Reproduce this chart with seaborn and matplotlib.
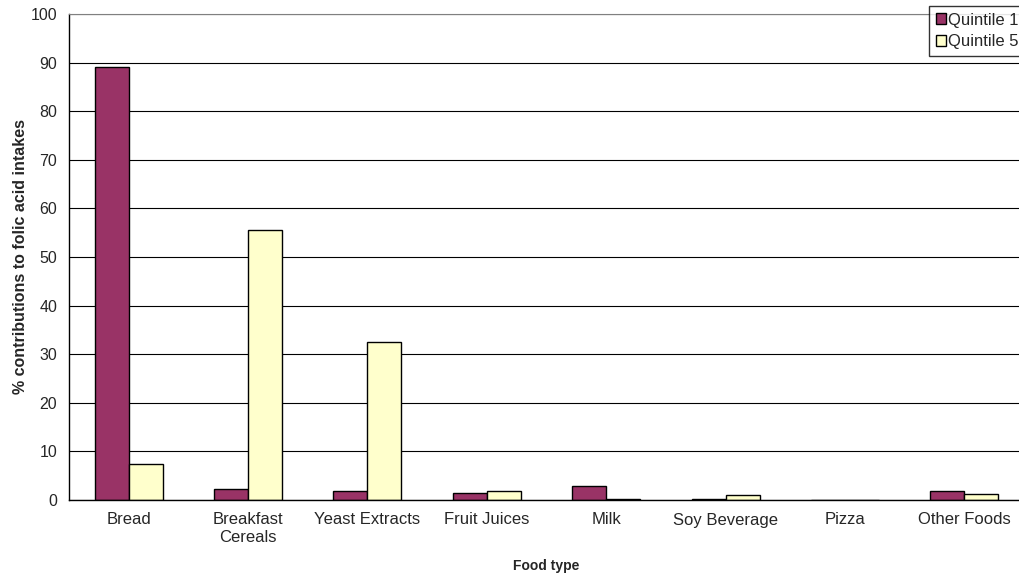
import matplotlib
matplotlib.use("Agg")
import matplotlib.pyplot as plt
import seaborn as sns
import pandas as pd
import numpy as np

foods = ["Bread", "Breakfast\nCereals", "Yeast Extracts", "Fruit Juices", "Milk",
         "Soy Beverage", "Pizza", "Other Foods"]
quintile_1 = [89.1, 2.3, 1.9, 1.5, 2.9, 0.3, 0.0, 1.9]
quintile_5 = [7.4, 55.6, 32.5, 1.8, 0.3, 1.1, 0.0, 1.2]
series = ["Quintile 1", "Quintile 5"]
colors = ["#993366", "#FFFFCC"]

df = pd.DataFrame({
    "food": foods * 2,
    "value": quintile_1 + quintile_5,
    "series": [series[0]] * len(foods) + [series[1]] * len(foods),
})

sns.set_style("white")
plt.rcParams["font.family"] = ["Liberation Sans", "DejaVu Sans"]

fig = plt.figure(figsize=(10.19, 5.78), dpi=100)
ax = fig.add_axes([69 / 1019, 78 / 578, 955 / 1019, 486 / 578])

sns.barplot(data=df, x="food", y="value", hue="series", palette=colors,
            order=foods, hue_order=series, width=0.57, edgecolor="black",
            linewidth=1, saturation=1, ax=ax, legend=False)

ax.set_xlim(-0.5, len(foods) - 0.5)
ax.set_ylim(0, 100)
ax.set_yticks(range(0, 101, 10))
ax.yaxis.grid(True, color="black", linewidth=0.8)
ax.set_axisbelow(True)

ax.set_xticks(range(len(foods)))
ax.set_xticklabels(foods, fontsize=12)
ax.set_xticks(np.arange(-0.5, len(foods), 1), minor=True)
ax.tick_params(axis="x", which="major", length=0, pad=9)
ax.tick_params(axis="x", which="minor", length=5, width=1, direction="out", color="black")
ax.tick_params(axis="y", length=5, width=1, direction="out", color="black", labelsize=11.5)

for s in ["left", "bottom"]:
    ax.spines[s].set_color("black")
    ax.spines[s].set_linewidth(1)
ax.spines["top"].set_color("#808080")
ax.spines["right"].set_visible(False)

ax.set_xlabel("Food type", fontsize=10, fontweight="bold", labelpad=10)
ax.set_ylabel("% contributions to folic acid intakes", fontsize=11.5, fontweight="bold", labelpad=2)

handles = [plt.Rectangle((0, 0), 1, 1, facecolor=c, edgecolor="black") for c in colors]
fig.legend(handles, series, loc="upper left", bbox_to_anchor=(929 / 1019, 1 - 6 / 578),
           fontsize=12, frameon=True, fancybox=False, edgecolor="black",
           handlelength=0.6, handleheight=0.6, handletextpad=0.15, borderpad=0.4,
           labelspacing=0.4, borderaxespad=0)

fig.savefig("out.png", dpi=100)
